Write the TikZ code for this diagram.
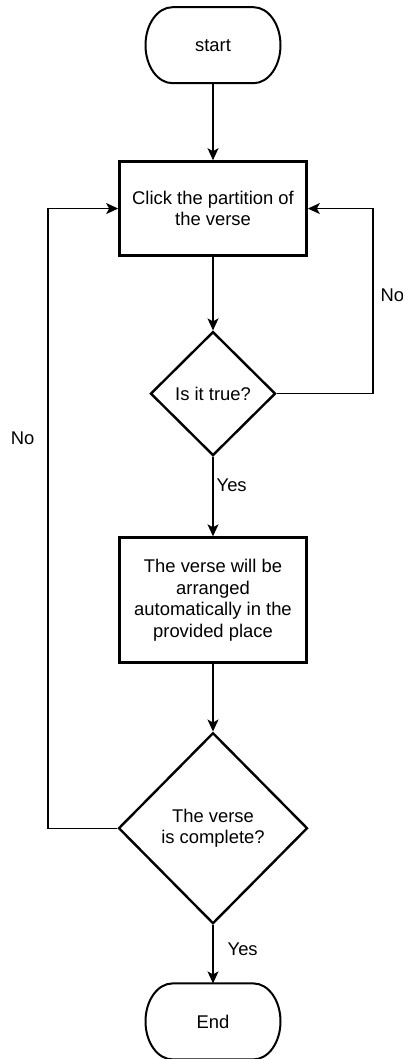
\documentclass[tikz,border=0pt]{standalone}
\usepackage{fontspec}
\setmainfont{Liberation Sans}
\usetikzlibrary{matrix, shapes.geometric, arrows.meta}

\begin{document}
\begin{tikzpicture}[x=1pt, y=1pt, >={Stealth[length=12pt, width=11pt, inset=3pt]},
	term/.style={outer sep=0pt, minimum width=135pt, minimum height=76pt},
	proc/.style={draw, line width=2.7pt, minimum width=187pt, text width=172pt, align=flush center},
	decide/.style={draw, diamond, line width=2.4pt, text width=110pt, align=flush center, inner sep=0pt},
	flow/.style={line width=1.3pt}]
\tikzstyle{every node}=[fill=white, inner sep=2pt, font=\fontsize{18.4}{21.7}\selectfont]
\useasboundingbox (0,0) rectangle (403,-1059);
\matrix (m)
[	matrix of nodes,
	row sep		=	77pt,
	anchor		=	north,
	inner sep	=	0pt,
	fill		=	none
] at (213,-7)
{	|[term]|	start	\\[0pt]
	|[proc, minimum height=94pt]|	{Click the partition of\\the verse}	\\[-3pt]
	|[decide, text width=80pt, minimum width=125pt, minimum height=124pt]|	{Is it true?}	\\[3pt]
	|[proc, minimum height=125pt]|	{The verse will be arranged automatically in the provided place}	\\[-9pt]
	|[decide, minimum width=189pt, minimum height=191pt]|	{The verse\\is complete?}	\\[-18pt]
	|[term]|	End	\\
};
% terminal outlines with oval ends
\foreach \tn in {m-1-1, m-6-1}
	\draw[line width=2pt] ([xshift=27pt]\tn.north west) -- ([xshift=-27pt]\tn.north east)
		arc[start angle=90, end angle=-90, x radius=27pt, y radius=38pt]
		-- ([xshift=27pt]\tn.south west)
		arc[start angle=270, end angle=90, x radius=27pt, y radius=38pt] -- cycle;
\coordinate (rturn) at (373,0);
\coordinate (lturn) at (48,0);
\path[->, flow]
(m-1-1) edge 	(m-2-1)
(m-2-1) edge 	(m-3-1)
(m-3-1) edge 	node[pos=0.36, anchor=west, xshift=1pt] {Yes} (m-4-1)
(m-4-1) edge 	(m-5-1)
(m-5-1) edge 	node[pos=0.41, anchor=west, xshift=12pt] {Yes} (m-6-1);
\draw[->, flow] (m-3-1.east) -- (m-3-1.east -| rturn)
	-- node[pos=0.53, anchor=west, xshift=5pt] {No} (m-2-1.east -| rturn) -- (m-2-1.east);
\draw[->, flow] (m-5-1.west) -- (m-5-1.west -| lturn)
	-- node[pos=0.63, anchor=east, xshift=-11pt] {No} (m-2-1.west -| lturn) -- (m-2-1.west);
\end{tikzpicture}
\end{document}
